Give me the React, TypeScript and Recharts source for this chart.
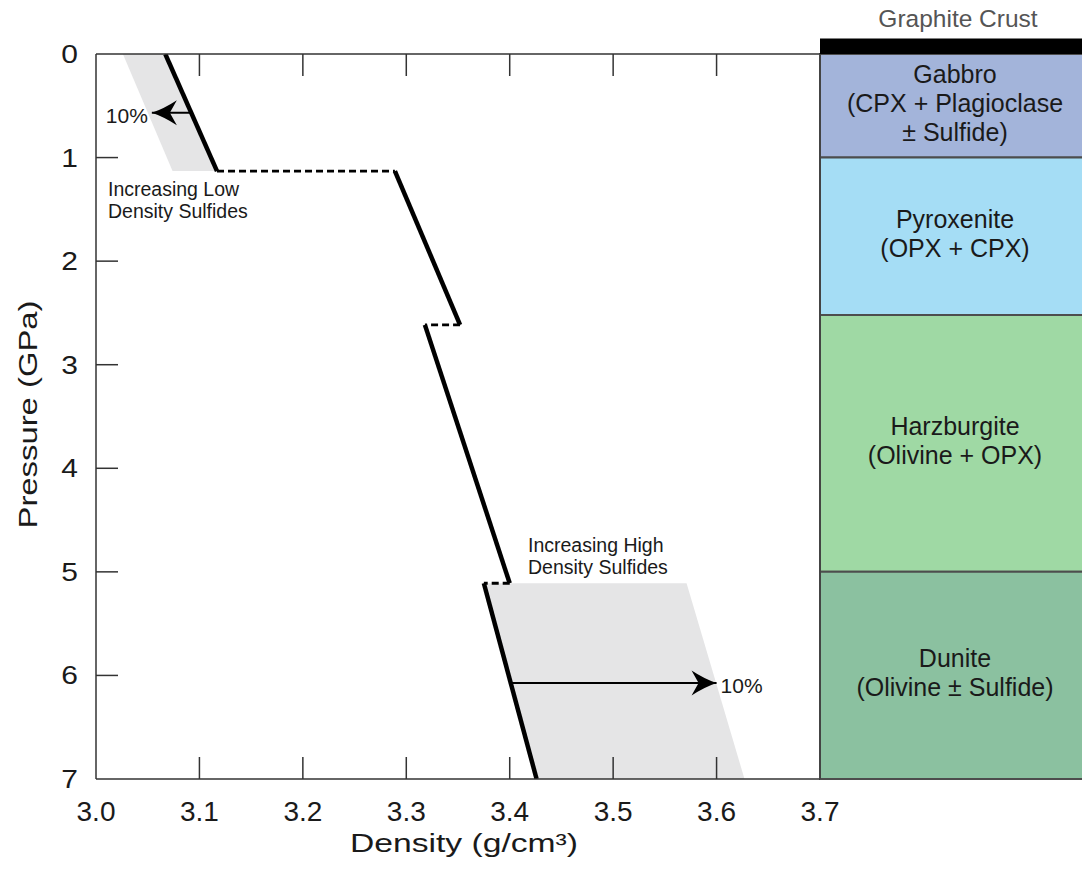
import React from 'react';
import { ComposedChart, Line, Area, XAxis, YAxis, ReferenceArea, ReferenceDot } from 'recharts';

const W = 1082;
const H = 869;
const FONT = '"Liberation Sans", Arial, Helvetica, sans-serif';
const INK = '#1a1a1a';

// Axis ticks
const densityTicks = [3.0, 3.1, 3.2, 3.3, 3.4, 3.5, 3.6, 3.7];
const pressureTicks = [0, 1, 2, 3, 4, 5, 6, 7];
const densityDomain = [3.0, 3.7];
const pressureDomain = [0, 7];

// Density profile, d in g/cm³, p in GPa
const gabbroTrend = [{ d: 3.067, p: 0 }, { d: 3.117, p: 1.13 }];
const pyroxeniteTrend = [{ d: 3.289, p: 1.13 }, { d: 3.352, p: 2.615 }];
const harzburgiteTrend = [{ d: 3.318, p: 2.615 }, { d: 3.4, p: 5.11 }];
const duniteTrend = [{ d: 3.375, p: 5.11 }, { d: 3.426, p: 7 }];

// Density jumps across lithology boundaries
const gabbroPyroxeniteJump = [{ d: 3.117, p: 1.13 }, { d: 3.289, p: 1.13 }];
const pyroxeniteHarzburgiteJump = [{ d: 3.352, p: 2.615 }, { d: 3.318, p: 2.615 }];
const harzburgiteDuniteJump = [{ d: 3.4, p: 5.11 }, { d: 3.375, p: 5.11 }];

// Sulfide-bearing density envelopes: [low, high] density at each pressure
const lowSulfideBand = [
  { p: 0, range: [3.026, 3.067] },
  { p: 1.13, range: [3.074, 3.117] },
];
const highSulfideBand = [
  { p: 5.11, range: [3.375, 3.571] },
  { p: 7, range: [3.426, 3.627] },
];

// 10% sulfide arrows (shaft start -> tip)
const lowSulfideArrow = [{ d: 3.092, p: 0.567 }, { d: 3.054, p: 0.567 }];
const highSulfideArrow = [{ d: 3.401, p: 6.073 }, { d: 3.6, p: 6.073 }];
const arrowLabel = '10%';

// Band annotations
const lowSulfideNote = { d: 3.0116, p: 1.37, lines: ['Increasing Low', 'Density Sulfides'] };
const highSulfideNote = { d: 3.4177, p: 4.808, lines: ['Increasing High', 'Density Sulfides'] };

// Lithology column
const layerNames = ['Gabbro', 'Pyroxenite', 'Harzburgite', 'Dunite'];
const layerMinerals = [
  ['(CPX + Plagioclase', '± Sulfide)'],
  ['(OPX + CPX)'],
  ['(Olivine + OPX)'],
  ['(Olivine ± Sulfide)'],
];
const layerTops = [0, 1, 2.52, 5];
const layerBases = [1, 2.52, 5, 7];
const layerColors = ['#a3b4da', '#a5ddf5', '#9fd9a4', '#8bc1a0'];
const crustName = 'Graphite Crust';
const crustRange = [-0.15, 0];

const TICK_LEN = 22;
const FRAME = '#333';

const isInner = (v: number, domain: number[]) => v > domain[0] && v < domain[1];

const BottomTick = (props: any) => {
  const { x, y, payload } = props;
  const v = Number(payload.value);
  return (
    <g>
      {isInner(v, densityDomain) && (
        <line x1={x} y1={y} x2={x} y2={y - TICK_LEN} stroke={FRAME} strokeWidth={1.5} />
      )}
      <text x={x} y={y + 42} textAnchor="middle" fontSize={28} fontFamily={FONT} fill={INK}>
        {v.toFixed(1)}
      </text>
    </g>
  );
};

const TopTick = (props: any) => {
  const { x, y, payload } = props;
  const v = Number(payload.value);
  if (!isInner(v, densityDomain)) return <g />;
  return <line x1={x} y1={y} x2={x} y2={y + TICK_LEN} stroke={FRAME} strokeWidth={1.5} />;
};

const LeftTick = (props: any) => {
  const { x, y, payload } = props;
  const v = Number(payload.value);
  return (
    <g>
      {isInner(v, pressureDomain) && (
        <line x1={x} y1={y} x2={x + TICK_LEN} y2={y} stroke={FRAME} strokeWidth={1.5} />
      )}
      <text
        transform={`translate(${x - 18},${y + 9}) scale(1.2,1)`}
        textAnchor="end"
        fontSize={25}
        fontFamily={FONT}
        fill={INK}
      >
        {v}
      </text>
    </g>
  );
};

const RightTick = (props: any) => {
  const { x, y, payload } = props;
  const v = Number(payload.value);
  if (!isInner(v, pressureDomain)) return <g />;
  return <line x1={x} y1={y} x2={x - TICK_LEN} y2={y} stroke={FRAME} strokeWidth={1.5} />;
};

const PressureTitle = (props: any) => {
  const vb = props.viewBox || { x: 0, y: 54, width: 96, height: 725 };
  const cx = vb.x + 28;
  const cy = vb.y + vb.height / 2 - 2;
  return (
    <text
      x={cx}
      y={cy}
      transform={`rotate(-90, ${cx}, ${cy})`}
      textAnchor="middle"
      dominantBaseline="central"
      fontSize={26}
      textLength={228}
      lengthAdjust="spacingAndGlyphs"
      fontFamily={FONT}
      fill={INK}
    >
      Pressure (GPa)
    </text>
  );
};

const DensityTitle = (props: any) => {
  const vb = props.viewBox || { x: 96, y: 779, width: 724, height: 60 };
  return (
    <text
      x={vb.x + vb.width / 2 + 6}
      y={vb.y + 73}
      textAnchor="middle"
      fontSize={26}
      textLength={228}
      lengthAdjust="spacingAndGlyphs"
      fontFamily={FONT}
      fill={INK}
    >
      Density (g/cm³)
    </text>
  );
};

// Arrowhead drawn at the last point of an arrow series, pointing along the shaft
const arrowDot = (series: { d: number; p: number }[]) => {
  const dir = Math.sign(series[series.length - 1].d - series[0].d) || 1;
  return (props: any) => {
    const { cx, cy, index } = props;
    if (index !== series.length - 1) return <g key={`n-${index}`} />;
    const head = 'M0,0 Q-12,-4 -25,-12.5 L-18,0 L-25,12.5 Q-12,4 0,0 Z';
    return (
      <g key={`h-${index}`}>
        <path d={head} transform={`translate(${cx},${cy}) scale(${dir},1)`} fill="#000" />
        <text
          x={cx + dir * 4}
          y={cy + 10}
          textAnchor={dir > 0 ? 'start' : 'end'}
          fontSize={21}
          fontFamily={FONT}
          fill={INK}
        >
          {arrowLabel}
        </text>
      </g>
    );
  };
};

const noteLabel = (lines: string[]) => (props: any) => {
  const vb = props.viewBox || { x: 0, y: 0 };
  return (
    <text x={vb.x} y={vb.y} fontSize={19.5} fontFamily={FONT} fill={INK}>
      {lines.map((t, i) => (
        <tspan key={t} x={vb.x} dy={i === 0 ? 0 : 22.5}>
          {t}
        </tspan>
      ))}
    </text>
  );
};

const layerLabel = (lines: string[]) => (props: any) => {
  const vb = props.viewBox;
  if (!vb) return null;
  const cx = vb.x + vb.width / 2;
  const cy = vb.y + vb.height / 2;
  const lh = 29;
  const first = cy - ((lines.length - 1) * lh) / 2 + 6;
  return (
    <text textAnchor="middle" fontSize={25} fontFamily={FONT} fill={INK}>
      {lines.map((t, i) => (
        <tspan key={t} x={cx} y={first + i * lh}>
          {t}
        </tspan>
      ))}
    </text>
  );
};

const crustLabel = (props: any) => {
  const vb = props.viewBox;
  if (!vb) return null;
  return (
    <text x={vb.x + vb.width / 2 + 3} y={vb.y - 11} textAnchor="middle" fontSize={24.5} fontFamily={FONT} fill="#555">
      {crustName}
    </text>
  );
};

const trendProps = {
  dataKey: 'd',
  stroke: '#000',
  strokeWidth: 4.5,
  dot: false,
  activeDot: false,
  type: 'linear' as const,
  isAnimationActive: false,
  strokeLinecap: 'butt' as const,
};

const jumpProps = {
  ...trendProps,
  strokeWidth: 2.8,
  strokeDasharray: '7 4',
};

const bandProps = {
  dataKey: 'range',
  type: 'linear' as const,
  fill: '#e5e5e6',
  fillOpacity: 1,
  stroke: 'none',
  dot: false,
  activeDot: false,
  isAnimationActive: false,
};

export default function App() {
  return (
    <div
      style={{
        position: 'fixed',
        left: 0,
        top: 0,
        width: W,
        height: H,
        overflow: 'hidden',
        background: '#fff',
      }}
    >
      {/* Lithology column */}
      <div style={{ position: 'absolute', left: 0, top: 0 }}>
        <ComposedChart
          layout="vertical"
          width={1090}
          height={H}
          margin={{ top: 54, right: 0, bottom: 90, left: 820 }}
        >
          <XAxis type="number" dataKey="x" domain={[0, 1]} hide allowDataOverflow />
          <YAxis type="number" dataKey="p" domain={pressureDomain} hide allowDataOverflow />
          {layerNames.map((name, i) => (
            <ReferenceArea
              key={name}
              x1={0}
              x2={1}
              y1={layerTops[i]}
              y2={layerBases[i]}
              fill={layerColors[i]}
              fillOpacity={1}
              stroke="#4d4d4d"
              strokeWidth={2}
              ifOverflow="visible"
              label={layerLabel([name, ...layerMinerals[i]])}
            />
          ))}
          <ReferenceArea
            x1={0}
            x2={1}
            y1={crustRange[0]}
            y2={crustRange[1]}
            fill="#000"
            fillOpacity={1}
            stroke="none"
            ifOverflow="visible"
            label={crustLabel}
          />
        </ComposedChart>
      </div>

      {/* Density–pressure profile */}
      <div style={{ position: 'absolute', left: 0, top: 0 }}>
        <ComposedChart
          layout="vertical"
          width={W}
          height={H}
          margin={{ top: 44, right: 252, bottom: 30, left: 0 }}
        >
          <XAxis
            type="number"
            domain={densityDomain}
            ticks={densityTicks}
            interval={0}
            allowDataOverflow
            height={60}
            tickSize={0}
            tickMargin={0}
            tickLine={false}
            axisLine={{ stroke: FRAME, strokeWidth: 1.5 }}
            tick={BottomTick}
            label={DensityTitle}
          />
          <XAxis
            xAxisId="top"
            orientation="top"
            type="number"
            domain={densityDomain}
            ticks={densityTicks}
            interval={0}
            allowDataOverflow
            height={10}
            tickSize={0}
            tickMargin={0}
            tickLine={false}
            axisLine={{ stroke: FRAME, strokeWidth: 1.5 }}
            tick={TopTick}
          />
          <YAxis
            type="number"
            dataKey="p"
            domain={pressureDomain}
            ticks={pressureTicks}
            interval={0}
            allowDataOverflow
            width={96}
            tickSize={0}
            tickMargin={0}
            tickLine={false}
            axisLine={{ stroke: FRAME, strokeWidth: 1.5 }}
            tick={LeftTick}
            label={PressureTitle}
          />
          <YAxis
            yAxisId="right"
            orientation="right"
            type="number"
            domain={pressureDomain}
            ticks={pressureTicks}
            interval={0}
            allowDataOverflow
            width={10}
            tickSize={0}
            tickMargin={0}
            tickLine={false}
            axisLine={{ stroke: '#444', strokeWidth: 2 }}
            tick={RightTick}
          />

          <Area data={lowSulfideBand} {...bandProps} />
          <Area data={highSulfideBand} {...bandProps} />

          <Line data={gabbroTrend} {...trendProps} />
          <Line data={pyroxeniteTrend} {...trendProps} />
          <Line data={harzburgiteTrend} {...trendProps} />
          <Line data={duniteTrend} {...trendProps} />

          <Line data={gabbroPyroxeniteJump} {...jumpProps} />
          <Line data={pyroxeniteHarzburgiteJump} {...jumpProps} />
          <Line data={harzburgiteDuniteJump} {...jumpProps} />

          <Line
            data={lowSulfideArrow}
            dataKey="d"
            stroke="#000"
            strokeWidth={2}
            type="linear"
            dot={arrowDot(lowSulfideArrow)}
            activeDot={false}
            isAnimationActive={false}
          />
          <Line
            data={highSulfideArrow}
            dataKey="d"
            stroke="#000"
            strokeWidth={2}
            type="linear"
            dot={arrowDot(highSulfideArrow)}
            activeDot={false}
            isAnimationActive={false}
          />

          <ReferenceDot
            x={lowSulfideNote.d}
            y={lowSulfideNote.p}
            r={0}
            fill="none"
            stroke="none"
            ifOverflow="visible"
            label={noteLabel(lowSulfideNote.lines)}
          />
          <ReferenceDot
            x={highSulfideNote.d}
            y={highSulfideNote.p}
            r={0}
            fill="none"
            stroke="none"
            ifOverflow="visible"
            label={noteLabel(highSulfideNote.lines)}
          />
        </ComposedChart>
      </div>
    </div>
  );
}
